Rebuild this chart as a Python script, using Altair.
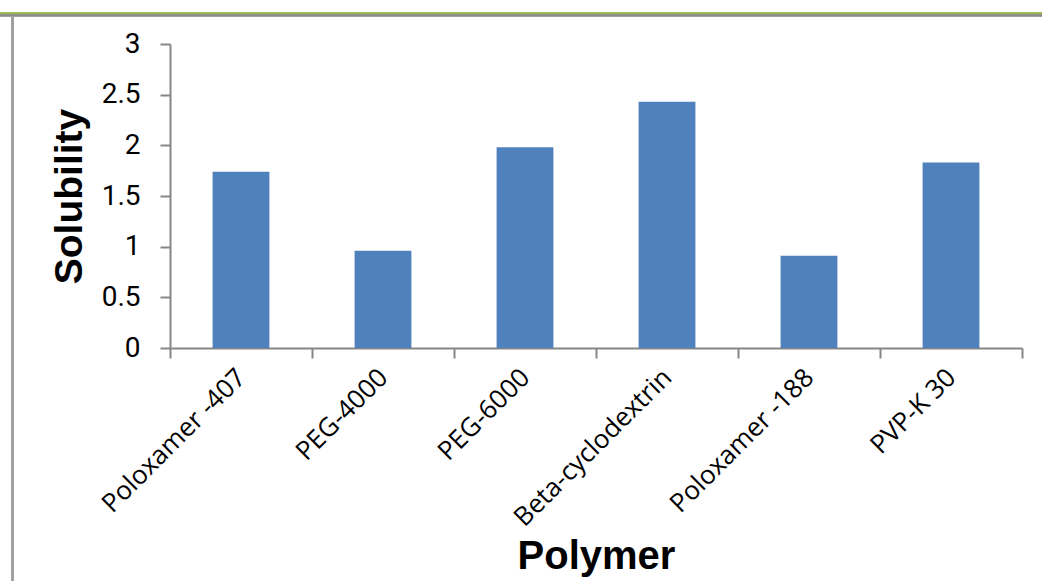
import altair as alt
import pandas as pd

# Solubility of the drug with each carrier polymer
polymers = ["Poloxamer -407", "PEG-4000", "PEG-6000", "Beta-cyclodextrin", "Poloxamer -188", "PVP-K 30"]
solubility = [1.74, 0.96, 1.98, 2.43, 0.91, 1.83]

df = pd.DataFrame({"Polymer": polymers, "Solubility": solubility})

W, H = 852, 304
PAD_L, PAD_T, PAD_R, PAD_B = 170, 44, 20, 233

bars = alt.Chart(df).mark_bar(color="#4F81BD", width=alt.RelativeBandSize(0.4)).encode(
    x=alt.X(
        "Polymer:N",
        sort=polymers,
        scale=alt.Scale(paddingInner=0, paddingOuter=0),
        axis=alt.Axis(
            title="Polymer",
            labelAngle=-45,
            labelAlign="right",
            labelBaseline="middle",
            labelFont="Open Sans",
            labelFontSize=26,
            labelColor="#000000",
            labelPadding=15,
            labelLimit=0,
            tickBand="extent",
            tickSize=10,
            tickWidth=2,
            tickColor="#868686",
            domainColor="#868686",
            domainWidth=2,
            titleFont="Liberation Sans",
            titleFontWeight="bold",
            titleFontSize=40,
            titleColor="#000000",
            titleX=426,
            titleY=220,
            titleBaseline="alphabetic",
            titleAlign="center",
        ),
    ),
    y=alt.Y(
        "Solubility:Q",
        scale=alt.Scale(domain=[0, 3], nice=False),
        axis=alt.Axis(
            title="Solubility",
            values=[0, 0.5, 1, 1.5, 2, 2.5, 3],
            format="~g",
            labelFont="Roboto",
            labelFontSize=28,
            labelColor="#000000",
            labelPadding=20,
            tickSize=10,
            tickWidth=2,
            tickColor="#868686",
            domainColor="#868686",
            domainWidth=2,
            grid=False,
            titleFont="Liberation Sans",
            titleFontWeight="bold",
            titleFontSize=39,
            titleColor="#000000",
            titleAngle=-90,
            titleX=-101,
            titleY=152,
            titleBaseline="middle",
            titleAlign="center",
        ),
    ),
)

# Frame decorations: green header band with a thin grey underline, grey rule at the left edge
green_band = alt.Chart(df).mark_rule(color="#9BBB59", strokeWidth=3).encode(
    x=alt.value(-PAD_L), x2=alt.value(W + PAD_R), y=alt.value(-30.5)
)
grey_under = alt.Chart(df).mark_rule(color="#8C8C8C", strokeWidth=1.5).encode(
    x=alt.value(-PAD_L), x2=alt.value(W + PAD_R), y=alt.value(-28.5)
)
left_rule = alt.Chart(df).mark_rule(color="#A0A0A0", strokeWidth=3).encode(
    x=alt.value(-157.5), y=alt.value(-28), y2=alt.value(H + PAD_B)
)

chart = (
    alt.layer(bars, green_band, grey_under, left_rule)
    .properties(
        width=W,
        height=H,
        padding={"left": PAD_L, "top": PAD_T, "right": PAD_R, "bottom": PAD_B},
        autosize=alt.AutoSizeParams(type="none"),
        background="#FFFFFF",
    )
    .configure_view(stroke=None)
)

chart.save("out.html", embed_options={"renderer": "svg", "actions": False})
